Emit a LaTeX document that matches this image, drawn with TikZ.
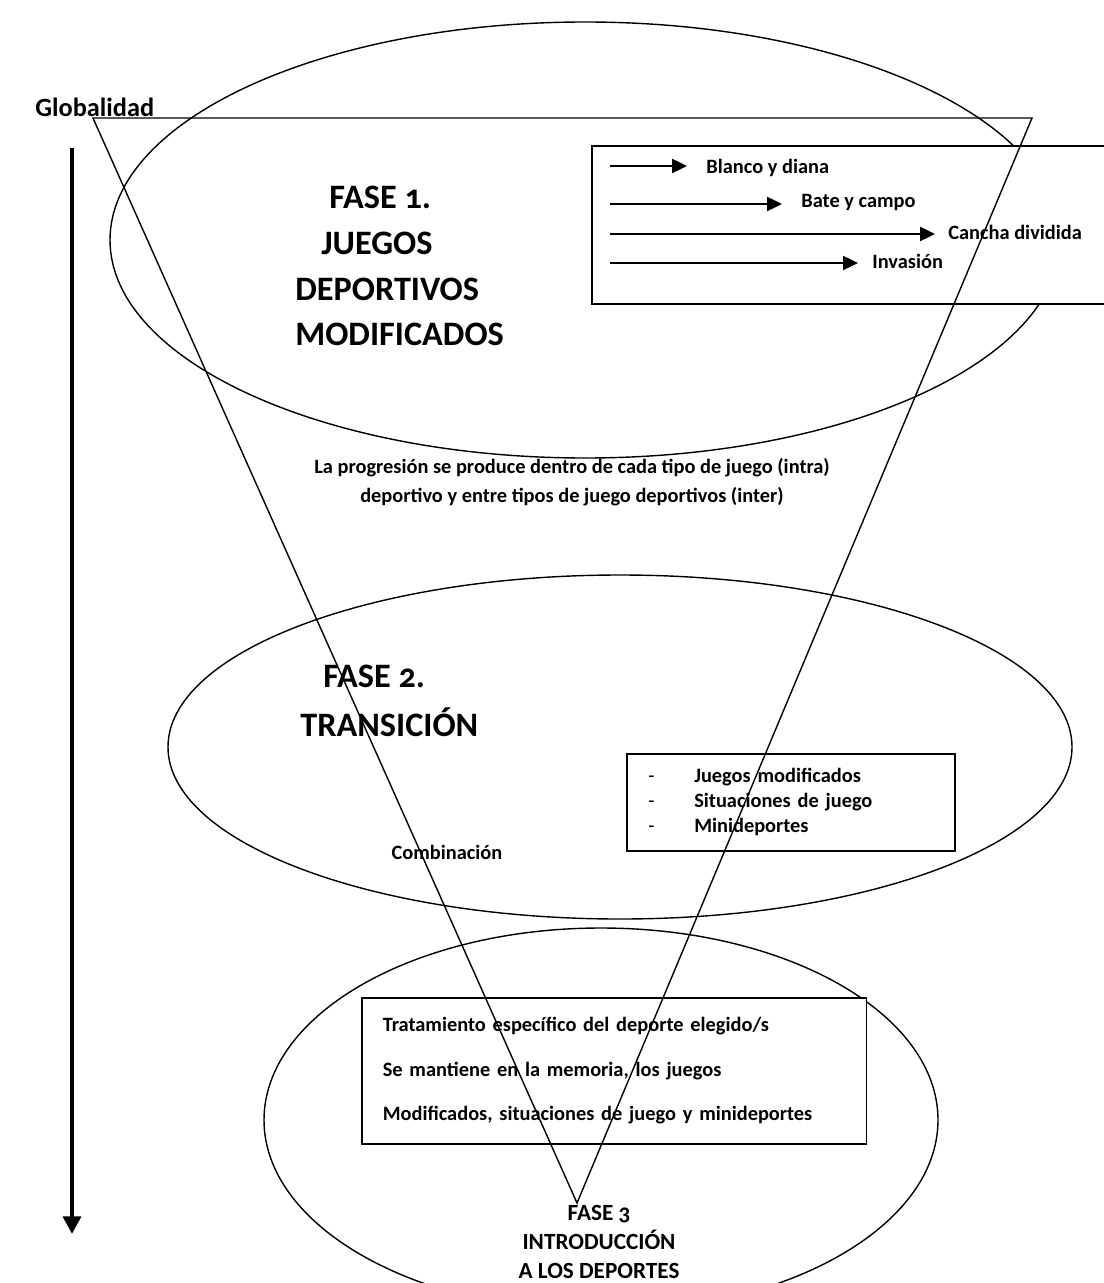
\documentclass[tikz,border=0pt]{standalone}
\usepackage{fontspec}
\setmainfont{Carlito}[Numbers=OldStyle]
\usetikzlibrary{arrows.meta,positioning}
\tikzset{
  outline/.style={draw=black,line width=0.8pt},
  listbox/.style={draw=black,line width=0.9pt,fill=white,inner sep=0pt},
  fasetxt/.style={font=\bfseries\fontsize{19.5}{26}\selectfont,inner sep=0pt,anchor=west},
  smalltxt/.style={font=\bfseries\fontsize{11.6}{16.5}\selectfont,inner sep=0pt},
  tiparrow/.style={-{Triangle[length=8.5pt,width=8pt]},line width=1.1pt},
  mainarrow/.style={-{Triangle[length=10pt,width=10pt]},line width=2.6pt},
}
\begin{document}
\begin{tikzpicture}[x=0.02cm,y=-0.02cm]
\useasboundingbox (0,0) rectangle (1104,1283);
% the three phases
\draw[outline] (585,240) ellipse [x radius=475,y radius=218];
\draw[outline] (620,747) ellipse [x radius=452,y radius=172];
\draw[outline] (601,1120) ellipse [x radius=337,y radius=192];
% axis
\node[font=\bfseries\fontsize{15}{17}\selectfont,inner sep=0pt,anchor=base west] (glob) at (35,117) {Globalidad};
\coordinate (gtop) at (72,148);
\coordinate (gbot) at (72,1234);
\draw[mainarrow] (gtop) -- (gbot);
% fase 1
\node[listbox,anchor=north west,minimum width=10.6cm,minimum height=3.16cm] (tipos) at (591,145) {};
\node[fasetxt] (f1a) at (329,197) {FASE 1.};
\node[fasetxt] (f1b) at (321,243) {JUEGOS};
\node[fasetxt] (f1c) at (295,289) {DEPORTIVOS};
\node[fasetxt] (f1d) at (295,334) {MODIFICADOS};
\coordinate (a1) at (610,166);
\coordinate (a2) at (610,204);
\coordinate (a3) at (610,234);
\coordinate (a4) at (610,263);
\node[smalltxt,anchor=west] (blanco) at (706,168) {Blanco y diana};
\node[smalltxt,anchor=west] (bate) at (801,202) {Bate y campo};
\node[smalltxt,anchor=west] (cancha) at (948,232) {Cancha dividida};
\node[smalltxt,anchor=west] (invasion) at (872,261) {Invasión};
\draw[tiparrow,shorten >=0.38cm] (a1) -- (blanco.west |- a1);
\draw[tiparrow,shorten >=0.38cm] (a2) -- (bate.west |- a2);
\draw[tiparrow,shorten >=0.26cm] (a3) -- (cancha.west |- a3);
\draw[tiparrow,shorten >=0.28cm] (a4) -- (invasion.west |- a4);
\node[smalltxt,align=center] (progresion) at (572,482)
  {La progresión se produce dentro de cada tipo de juego (intra)\\deportivo y entre tipos de juego deportivos (inter)};
% fase 2
\node[fasetxt] (f2a) at (323,676) {FASE 2.};
\node[fasetxt] (f2b) at (300,722) {TRANSICIÓN};
\node[listbox,anchor=north west,minimum width=6.56cm,minimum height=1.94cm,
  text width=5.7cm,inner xsep=0.43cm,align=left,
  font=\bfseries\fontsize{11.6}{14.2}\selectfont] (situaciones) at (626,753)
  {\makebox[0.92cm][l]{\mdseries-}Juegos modificados\\
   \makebox[0.92cm][l]{\mdseries-}Situaciones de juego\\
   \makebox[0.92cm][l]{\mdseries-}Minideportes};
\node[smalltxt] (combinacion) at (447,852) {Combinación};
% fase 3
\node[listbox,anchor=north west,minimum width=9.68cm,minimum height=2.92cm,
  text width=9.26cm,inner xsep=0.42cm,align=left,
  font=\bfseries\fontsize{11.6}{25.4}\selectfont] (tratamiento) at (361,997)
  {Tratamiento específico del deporte elegido/s\\
   Se mantiene en la memoria, los juegos\\
   Modificados, situaciones de juego y minideportes};
\node[font=\bfseries\fontsize{13.2}{16.5}\selectfont,inner sep=0pt,align=center] (f3) at (599,1242)
  {FASE 3\\INTRODUCCIÓN\\A LOS DEPORTES};
% embudo
\coordinate (vtl) at (93,118);
\coordinate (vtr) at (1032,118);
\coordinate (vb) at (577,1203);
\draw[outline] (vtl) -- (vtr) -- (vb) -- cycle;
\end{tikzpicture}
\end{document}
